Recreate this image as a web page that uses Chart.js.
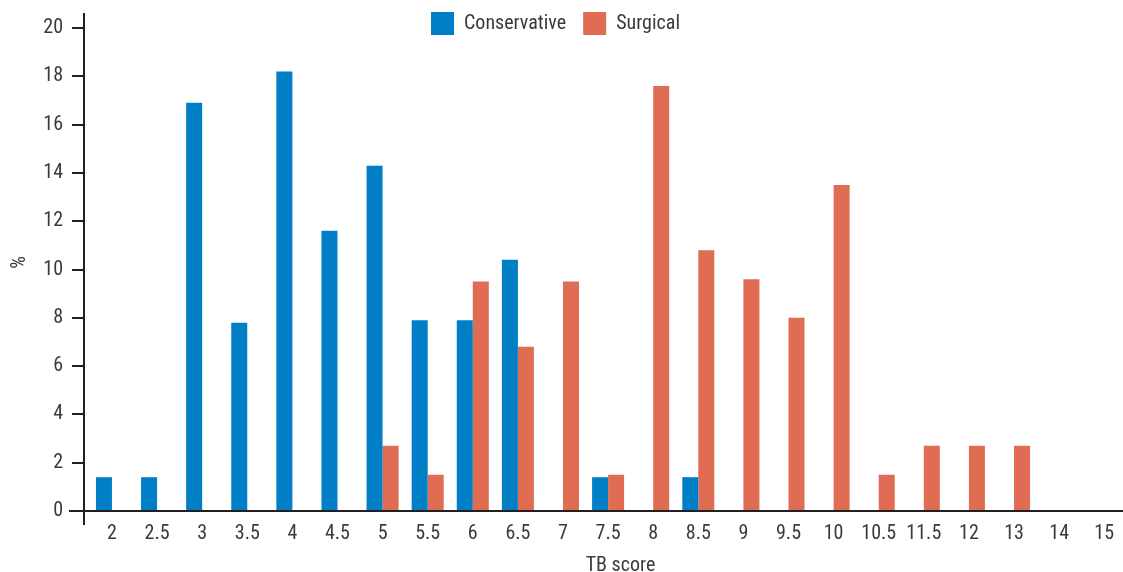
<!DOCTYPE html>
<html><head><meta charset="utf-8">
<script src="https://cdn.jsdelivr.net/npm/chart.js@4.4.1/dist/chart.umd.min.js"></script>
<style>
html,body{margin:0;padding:0;overflow:hidden;background:#fff;width:1123px;height:572px}
#wrap{width:1157px;height:572px}
canvas{display:block}
</style></head><body>
<div id="wrap"><canvas id="c" width="1157" height="572"></canvas></div>
<script>
const categories = ['2','2.5','3','3.5','4','4.5','5','5.5','6','6.5','7','7.5','8','8.5','9','9.5','10','10.5','11.5','12','13','14','15'];
const conservative = [1.4,1.4,16.9,7.8,18.2,11.6,14.3,7.9,7.9,10.4,0,1.4,0,1.4,0,0,0,0,0,0,0,0,0];
const surgical = [0,0,0,0,0,0,2.7,1.5,9.5,6.8,9.5,1.5,17.6,10.8,9.6,8.0,13.5,1.5,2.7,2.7,2.7,0,0];
const yTickValues = [0,2,4,6,8,10,12,14,16,18,20];
const seriesNames = ['Conservative','Surgical'];

const TEXT = '#3a3a3a', AXIS = '#231f20';
const BLUE = '#007EC6', RED = '#E06C54';
const FONT = "'Liberation Sans Narrow','Roboto Condensed','DejaVu Sans Condensed',sans-serif";
Chart.defaults.font.family = FONT;
Chart.defaults.color = TEXT;

const LEGEND_SHIFT = 23;
const LEGEND_TOP = -5;
const layoutFix = {
  id: 'layoutFix',
  beforeUpdate(chart) {
    const lg = chart.legend;
    if (lg && !lg._patched) {
      const f = lg.fit;
      lg.fit = function () { f.call(this); this.height = 14; };
      lg._patched = true;
    }
  },
  afterLayout(chart) {
    const lg = chart.legend;
    if (lg) {
      lg.left -= LEGEND_SHIFT; lg.right -= LEGEND_SHIFT;
      lg.top = LEGEND_TOP; lg.height = 70; lg.bottom = lg.top + 70;
    }
  },
  afterDraw(chart) {
    const a = chart.chartArea, ctx = chart.ctx;
    ctx.save();
    ctx.strokeStyle = AXIS; ctx.lineWidth = 2;
    ctx.beginPath();
    ctx.moveTo(a.left, a.bottom); ctx.lineTo(a.left, a.bottom + 14);
    ctx.moveTo(a.left - 15, a.bottom); ctx.lineTo(a.left, a.bottom);
    ctx.stroke();
    ctx.restore();
  }
};

function noPad(s) { s.paddingTop = 0; s.paddingBottom = 0; s.paddingLeft = 0; s.paddingRight = 0; }

new Chart(document.getElementById('c'), {
  type: 'bar',
  data: {
    datasets: [
      { label: seriesNames[0], data: conservative.map((v, i) => ({ x: i, y: v })), backgroundColor: BLUE, borderWidth: 0 },
      { label: seriesNames[1], data: surgical.map((v, i) => ({ x: i, y: v })), backgroundColor: RED, borderWidth: 0 }
    ]
  },
  options: {
    responsive: false,
    animation: false,
    events: [],
    layout: { padding: 0 },
    datasets: { bar: { categoryPercentage: 0.71, barPercentage: 1 } },
    plugins: {
      tooltip: { enabled: false },
      legend: {
        position: 'top',
        labels: { boxWidth: 23, boxHeight: 23, padding: 17, color: TEXT, font: { size: 20 } }
      }
    },
    scales: {
      x: {
        type: 'linear',
        offset: false,
        min: -0.62, max: 23.17,
        grid: { display: false, drawTicks: false, offset: false },
        border: { display: true, color: AXIS, width: 2 },
        afterBuildTicks(s) { s.ticks = categories.map((_, i) => ({ value: i })); },
        afterFit(s) { s.height = 61; noPad(s); },
        ticks: {
          autoSkip: false, maxRotation: 0, minRotation: 0, padding: 11,
          font: { size: 20 }, color: TEXT,
          callback: (v) => categories[v]
        },
        title: { display: true, text: 'TB score', font: { size: 20 }, color: TEXT, padding: { top: 0, bottom: -6 } }
      },
      y: {
        min: 0, max: 20.58,
        afterBuildTicks(s) { s.ticks = yTickValues.map(v => ({ value: v })); },
        afterFit(s) { s.width = 84; noPad(s); },
        grid: { display: true, drawOnChartArea: false, drawTicks: true, tickLength: 12, color: AXIS, lineWidth: 2 },
        border: { display: true, color: AXIS, width: 2 },
        ticks: { padding: 9, font: { size: 20 }, color: TEXT },
        title: { display: true, text: '%', font: { size: 20 }, color: TEXT, padding: { top: 8, bottom: 0 } }
      }
    }
  },
  plugins: [layoutFix]
});
</script>
</body></html>
